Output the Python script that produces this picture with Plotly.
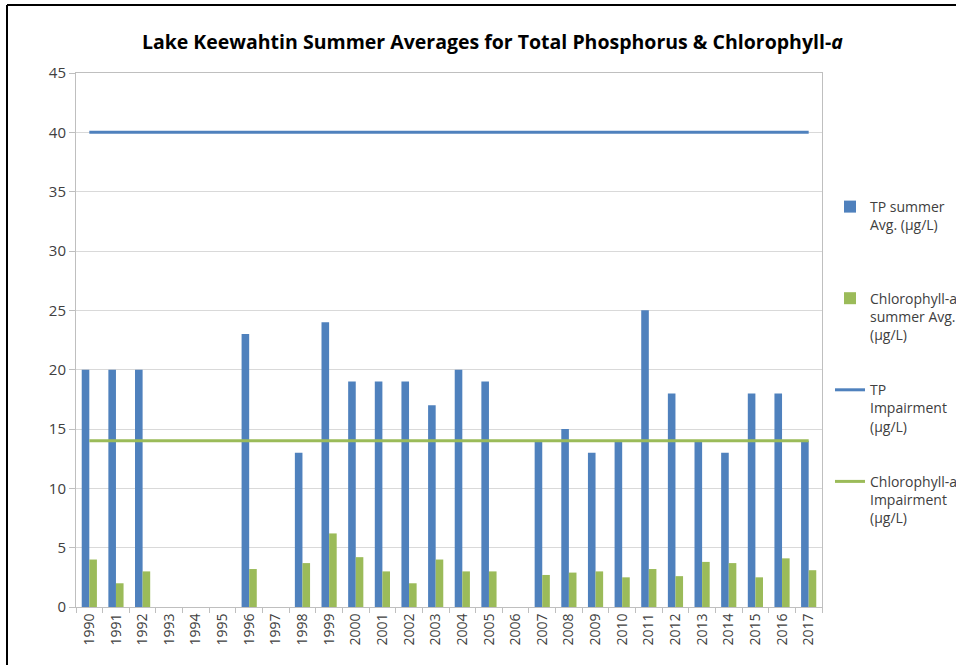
import plotly.graph_objects as go

years = [str(y) for y in range(1990, 2018)]
tp_avg = [20, 20, 20, None, None, None, 23, None, 13, 24, 19, 19, 19, 17,
          20, 19, None, 14, 15, 13, 14, 25, 18, 14, 13, 18, 18, 14]
chl_avg = [4, 2, 3, None, None, None, 3.2, None, 3.7, 6.2, 4.2, 3, 2, 4,
           3, 3, None, 2.7, 2.9, 3, 2.5, 3.2, 2.6, 3.8, 3.7, 2.5, 4.1, 3.1]
TP_IMPAIRMENT = 40
CHL_IMPAIRMENT = 14
tp_imp = [TP_IMPAIRMENT] * len(years)
chl_imp = [CHL_IMPAIRMENT] * len(years)
y_ticks = list(range(0, 50, 5))

BLUE = "#4F81BD"
GREEN = "#9BBB59"
FONT = "Open Sans"
TXT = "#404040"

fig = go.Figure()
fig.add_trace(go.Bar(x=years, y=tp_avg, name="TP summer<br>Avg. (µg/L)<br> ",
                     marker=dict(color=BLUE, line=dict(width=0)), legendgroup="a"))
fig.add_trace(go.Bar(x=years, y=chl_avg, name="Chlorophyll-a<br>summer Avg.<br>(µg/L)",
                     marker=dict(color=GREEN, line=dict(width=0)), legendgroup="b"))
fig.add_trace(go.Scatter(x=years, y=tp_imp, mode="lines", name="TP<br>Impairment<br>(µg/L)",
                         line=dict(color=BLUE, width=3), legendgroup="c"))
fig.add_trace(go.Scatter(x=years, y=chl_imp, mode="lines", name="Chlorophyll-a<br>Impairment<br>(µg/L)",
                         line=dict(color=GREEN, width=3), legendgroup="d"))

L, R, T, B = 76, 134, 73, 58
W, H = 956, 665
pw, ph = W - L - R, H - T - B

def px(x):
    return (x - L) / pw

def py(y):
    return (H - B - y) / ph

fig.update_layout(
    width=W, height=H,
    margin=dict(l=L, r=R, t=T, b=B, autoexpand=False),
    paper_bgcolor="white", plot_bgcolor="white",
    barmode="group", bargap=0.43, bargroupgap=0,
    title=dict(text="<b>Lake Keewahtin Summer Averages for Total Phosphorus & Chlorophyll-<i>a</i></b>",
               x=0.515, xanchor="center", y=1 - 42 / H, yanchor="middle",
               font=dict(family=FONT, size=19.5, color="#000000")),
    font=dict(family=FONT, size=14, color=TXT),
    legend=dict(x=px(830), y=py(191), xanchor="left", yanchor="top",
                valign="top", tracegroupgap=34, traceorder="grouped",
                font=dict(family=FONT, size=14, color=TXT),
                bgcolor="rgba(0,0,0,0)"),
    xaxis=dict(type="category", tickangle=-90, showgrid=False, automargin=False,
               ticks="outside", tickson="boundaries", ticklen=5, tickcolor="#BFBFBF",
               showline=True, linecolor="#BFBFBF", linewidth=1, mirror=True,
               tickfont=dict(family=FONT, size=14, color=TXT)),
    yaxis=dict(range=[0, 45], tickvals=y_ticks, showgrid=True, gridcolor="#D9D9D9",
               gridwidth=1, ticks="outside", ticklen=6, tickcolor="#BFBFBF",
               showline=True, linecolor="#BFBFBF", linewidth=1, mirror=True,
               automargin=False, zeroline=False,
               tickfont=dict(family=FONT, size=15, color=TXT)),
    shapes=[
        dict(type="line", xref="paper", yref="paper", x0=px(7), x1=px(W + 5),
             y0=py(5), y1=py(5), line=dict(color="black", width=2)),
        dict(type="line", xref="paper", yref="paper", x0=px(7), x1=px(7),
             y0=py(5), y1=py(H + 5), line=dict(color="black", width=2)),
    ],
)

fig.write_html("out.html", config={"displayModeBar": False},
               post_script="document.body.style.margin='0';document.body.style.overflow='hidden';")
